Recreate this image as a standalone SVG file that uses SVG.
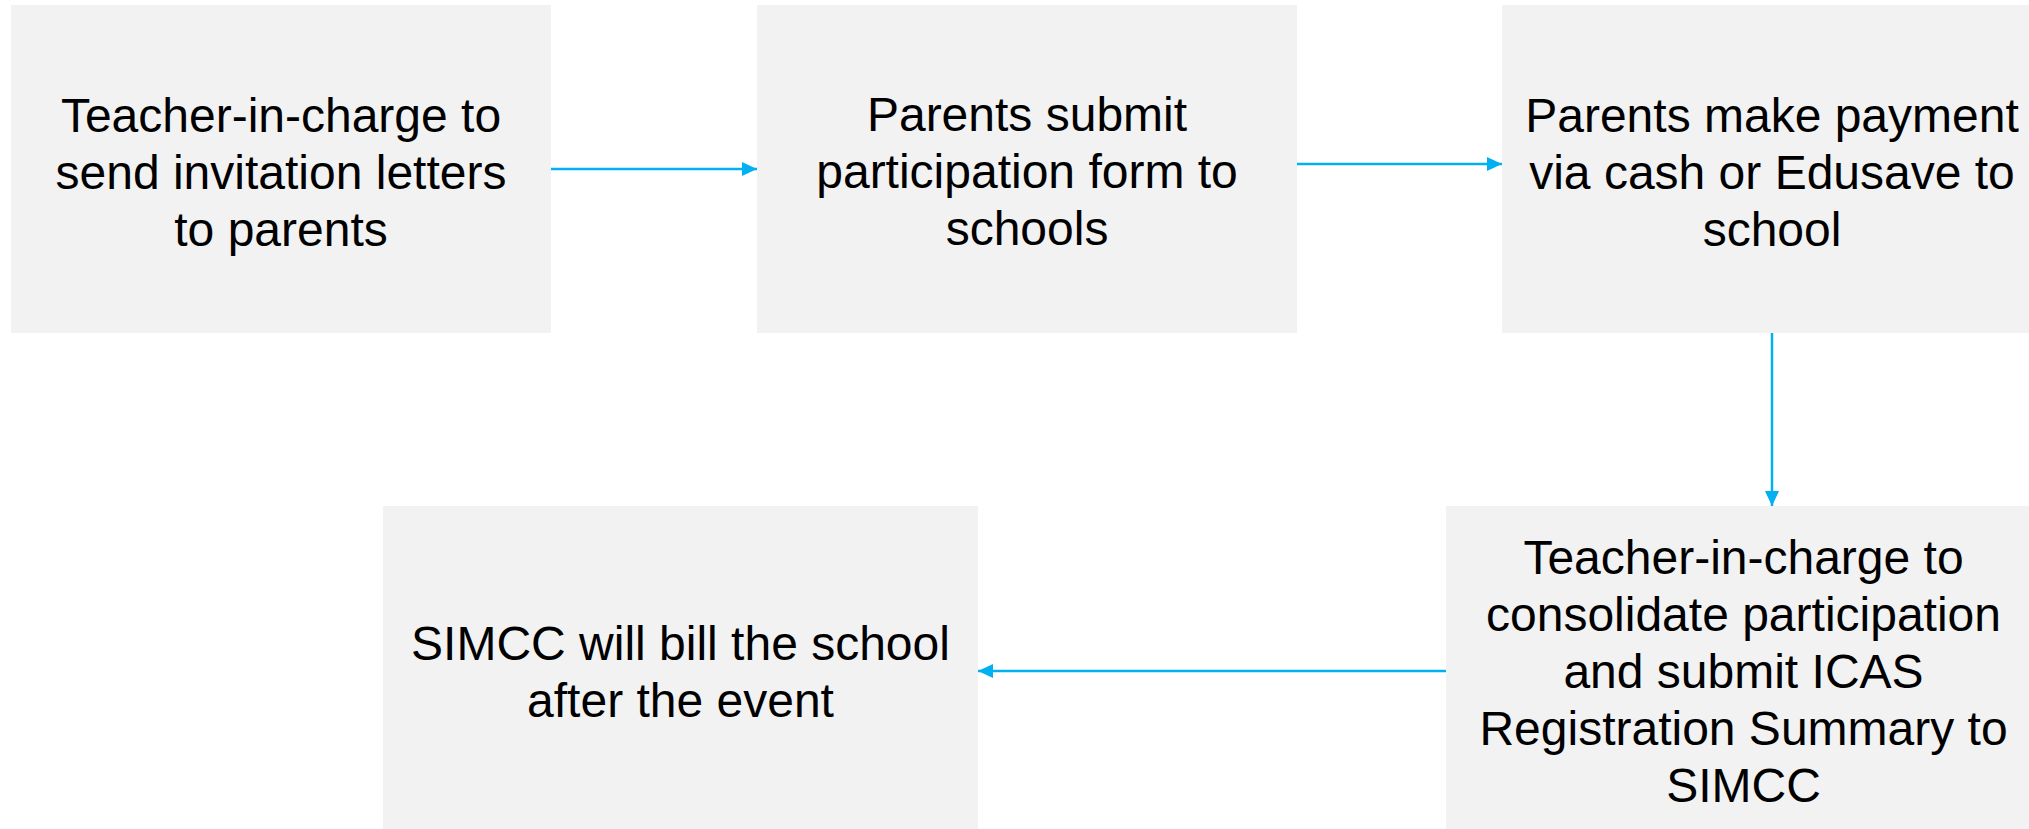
<svg xmlns="http://www.w3.org/2000/svg" width="2029" height="829" viewBox="0 0 2029 829">
<style>
.box{fill:#F2F2F2;}
.t{font-family:"Liberation Sans",Arial,sans-serif;font-size:48px;fill:#000;text-anchor:middle;}
.c{stroke:#00B0F0;stroke-width:2.5;fill:none;marker-end:url(#ah);}
</style>
<defs>
<marker id="ah" markerUnits="userSpaceOnUse" markerWidth="16" markerHeight="16" refX="15" refY="7" orient="auto">
<path d="M0,0 L15,7 L0,14 Z" fill="#00B0F0"/>
</marker>
</defs>
<rect width="2029" height="829" fill="#FFFFFF"/>
<g id="n1">
<rect class="box" x="11" y="5" width="540" height="328"/>
<text class="t" x="281"><tspan x="281" y="132">Teacher-in-charge to</tspan><tspan x="281" y="189">send invitation letters</tspan><tspan x="281" y="246">to parents</tspan></text>
</g>
<g id="n2">
<rect class="box" x="757" y="5" width="540" height="328"/>
<text class="t"><tspan x="1027" y="131">Parents submit</tspan><tspan x="1027" y="188">participation form to</tspan><tspan x="1027" y="245">schools</tspan></text>
</g>
<g id="n3">
<rect class="box" x="1502" y="5" width="540" height="328"/>
<text class="t"><tspan x="1772" y="132">Parents make payment</tspan><tspan x="1772" y="189">via cash or Edusave to</tspan><tspan x="1772" y="246">school</tspan></text>
</g>
<g id="n4">
<rect class="box" x="383" y="506" width="595" height="330"/>
<text class="t"><tspan x="680.5" y="660">SIMCC will bill the school</tspan><tspan x="680.5" y="717">after the event</tspan></text>
</g>
<g id="n5">
<rect class="box" x="1446" y="506" width="595" height="330"/>
<text class="t"><tspan x="1743.5" y="574">Teacher-in-charge to</tspan><tspan x="1743.5" y="631">consolidate participation</tspan><tspan x="1743.5" y="688">and submit ICAS</tspan><tspan x="1743.5" y="745">Registration Summary to</tspan><tspan x="1743.5" y="802">SIMCC</tspan></text>
</g>
<g id="connectors">
<line class="c" x1="551" y1="169" x2="757" y2="169"/>
<line class="c" x1="1297" y1="164" x2="1502" y2="164"/>
<line class="c" x1="1772" y1="333" x2="1772" y2="506"/>
<line class="c" x1="1446" y1="671" x2="978" y2="671"/>
</g>
</svg>
